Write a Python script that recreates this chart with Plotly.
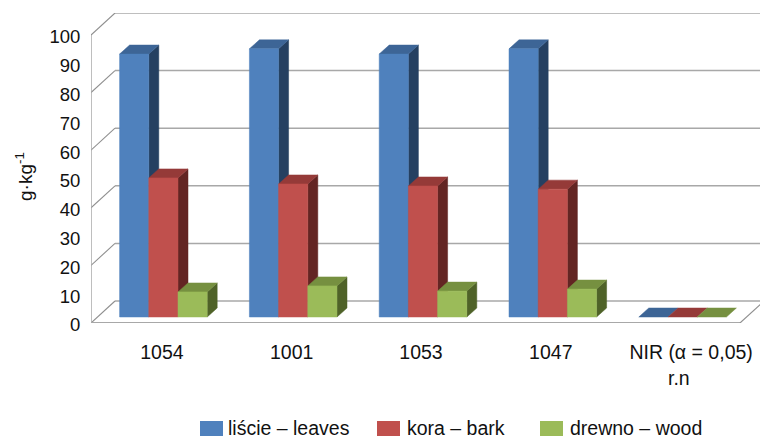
import plotly.graph_objects as go

categories = ["1054", "1001", "1053", "1047", "NIR (α = 0,05)"]
leaves = [91.3, 93.1, 91.3, 93.1, 0]
bark = [48.3, 46.2, 45.5, 44.4, 0]
wood = [8.7, 10.8, 9.0, 9.7, 0]
y_ticks = [0, 10, 20, 30, 40, 50, 60, 70, 80, 90, 100]
grid_values = [0, 20, 40, 60, 80, 100]

series = [
    ("liście – leaves", leaves, "#4F81BD", "#3D6596", "#254061"),
    ("kora – bark", bark, "#C0504D", "#953A38", "#632523"),
    ("drewno – wood", wood, "#9BBB59", "#769040", "#4F6228"),
]

# Pixel scale of the plot area, used to express the oblique projection in data units
PX_X = 129.8
PX_Y = 2.88
LEFT, TOP, BOTTOM = 91, 13, 113
WIDTH, HEIGHT = 760, 436
PLOT_W = WIDTH - LEFT
PLOT_H = HEIGHT - BOTTOM - TOP

WALL_DX = 24 / PX_X
WALL_DY = 22 / PX_Y
BAR_DX = 10 / PX_X
BAR_DY = 9 / PX_Y
BAR_LIFT = 6 / PX_Y
BAR_W = 29.2 / PX_X
BAR_START = -36.3 / PX_X

x_min = -0.5
x_max = x_min + PLOT_W / PX_X
y_max = PLOT_H / PX_Y
GRID = "#A8A8A8"
DIAGONAL = "#8E8E8E"

# Labels sit under the middle of each bar group; the long last one is nudged to stay on the page
label_offsets = [6 / PX_X, 6 / PX_X, 5.5 / PX_X, 5.5 / PX_X, 16 / PX_X]

fig = go.Figure()


def paper_x(px):
    return (px - LEFT) / PLOT_W


def paper_y(py):
    return (HEIGHT - BOTTOM - py) / PLOT_H


def line(xs, ys, width=1.5, color=GRID):
    fig.add_trace(go.Scatter(x=xs, y=ys, mode="lines", line=dict(color=color, width=width),
                             showlegend=False, hoverinfo="skip", cliponaxis=False))


def face(xs, ys, color):
    fig.add_trace(go.Scatter(x=xs, y=ys, mode="lines", fill="toself", fillcolor=color,
                             line=dict(color=color, width=0.5), showlegend=False,
                             hoverinfo="skip"))


# Walls and floor of the box
for v in grid_values:
    line([x_min + WALL_DX, x_max + WALL_DX], [v + WALL_DY, v + WALL_DY])
    line([x_min, x_min + WALL_DX], [v, v + WALL_DY], width=1.1, color=DIAGONAL)
    line([x_min - 4 / PX_X, x_min], [v, v], width=1.1)
line([x_min, x_min], [0, 100])
line([x_min, x_min + len(categories)], [0, 0], width=1.8)
line([x_min + len(categories), x_min + len(categories) + WALL_DX], [0, WALL_DY],
     width=1.1, color=DIAGONAL)
for i in range(len(categories) + 1):
    line([x_min + i, x_min + i], [0, -5 / PX_Y], width=1.1, color=DIAGONAL)

# Prisms, painted left to right so nearer faces cover hidden ones
for c in range(len(categories)):
    for s, (name, values, front, top, side) in enumerate(series):
        x0 = c + BAR_START + s * BAR_W
        x1 = x0 + BAR_W
        y0 = BAR_LIFT
        y1 = BAR_LIFT + values[c]
        if values[c] > 0:
            face([x1, x1 + BAR_DX, x1 + BAR_DX, x1, x1],
                 [y0, y0 + BAR_DY, y1 + BAR_DY, y1, y0], side)
        face([x0, x0 + BAR_DX, x1 + BAR_DX, x1, x0],
             [y1, y1 + BAR_DY, y1 + BAR_DY, y1, y1], top)
        if values[c] > 0:
            face([x0, x1, x1, x0, x0], [y0, y0, y1, y1, y0], front)

shapes = []
annotations = [
    dict(text="r.n", x=paper_x(679), y=paper_y(378), xref="paper", yref="paper",
         showarrow=False, font=dict(size=19.5), yanchor="middle", xanchor="center"),
    dict(text="g·kg<sup>-1</sup>", x=paper_x(24), y=paper_y(177), xref="paper", yref="paper",
         showarrow=False, textangle=-90, font=dict(size=19), xanchor="center", yanchor="middle"),
]

# Legend row: swatch and label for each series
swatch_x = [200, 377, 540]
label_x = [228, 407, 570]
for (name, values, front, top, side), sx, lx in zip(series, swatch_x, label_x):
    shapes.append(dict(type="rect", xref="paper", yref="paper", line=dict(width=0), fillcolor=front,
                       x0=paper_x(sx), x1=paper_x(sx + 23), y0=paper_y(436), y1=paper_y(421)))
    annotations.append(dict(text=name, xref="paper", yref="paper", showarrow=False,
                            x=paper_x(lx), xanchor="left", xshift=-2,
                            y=paper_y(428), yanchor="middle", font=dict(size=19.5)))

fig.update_layout(
    width=WIDTH, height=HEIGHT, autosize=False,
    margin=dict(l=LEFT, r=0, t=TOP, b=BOTTOM, pad=0),
    paper_bgcolor="white", plot_bgcolor="white",
    font=dict(family="Liberation Sans, Arial, sans-serif", size=18.5, color="#111111"),
    showlegend=False, shapes=shapes, annotations=annotations,
    xaxis=dict(range=[x_min, x_max], tickmode="array",
               tickvals=[c + off for c, off in zip(range(len(categories)), label_offsets)],
               ticktext=categories, tickfont=dict(size=19.5), showgrid=False, zeroline=False,
               showline=False, ticks="outside", ticklen=12, tickcolor="rgba(0,0,0,0)"),
    yaxis=dict(range=[0, y_max], tickmode="array", tickvals=y_ticks, showgrid=False,
               zeroline=False, showline=False, ticks="outside", ticklen=6,
               tickcolor="rgba(0,0,0,0)", ticklabelshift=2),
)

fig.write_html("out.html")
